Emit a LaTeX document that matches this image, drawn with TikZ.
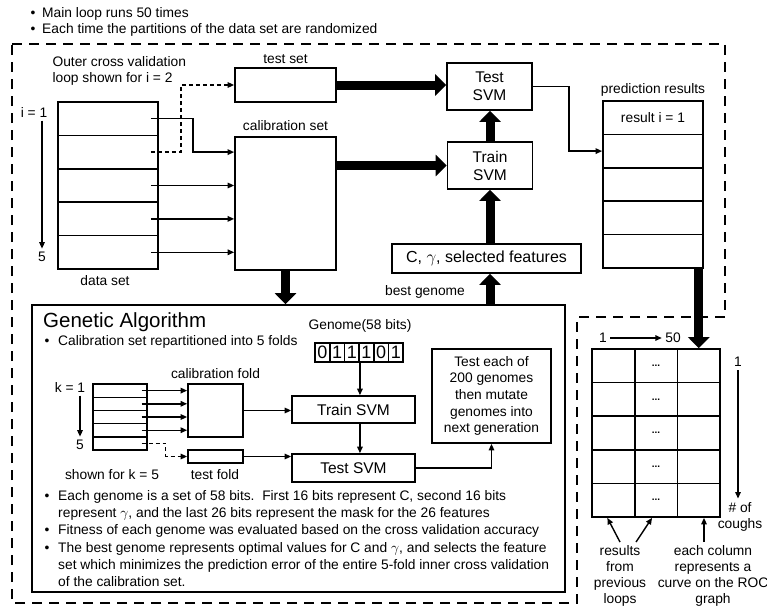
\documentclass[tikz,border=0pt]{standalone}
\usepackage{fontspec}
\setmainfont{Liberation Sans}
\usetikzlibrary{arrows.meta}

\tikzset{
  box/.style={draw, line width=1.7pt, inner sep=0pt},
  svm/.style={box, align=center, font=\fontsize{15.5}{18}\selectfont},
  arr/.style={line width=1.4pt, -{Triangle[length=6.5pt,width=5.5pt]}},
  dasharr/.style={arr, dash pattern=on 4pt off 3pt},
  wide/.style={line width=9pt, -{Triangle[length=11pt,width=21pt]}},
  outline/.style={line width=1.8pt, dash pattern=on 10pt off 7pt},
  note/.style={anchor=north west, align=left, font=\fontsize{13.8}{17}\selectfont},
}

\begin{document}
\begin{tikzpicture}[x=1pt, y=-1pt, every node/.style={font=\fontsize{13.8}{16}\selectfont}]
\useasboundingbox (0,0) rectangle (767,610);

% Notes on the main loop
\foreach \y in {14,30} \node at (33,\y) {\textbullet};
\node[anchor=west] (note1) at (38.7,14) {Main loop runs 50 times};
\node[anchor=west] (note2) at (38.7,30) {Each time the partitions of the data set are randomized};

% Dashed outline of the main loop
\draw[outline] (12,44) -- (725,44) -- (725,317) -- (577,317) -- (577,603) -- (12,603) -- cycle;

% Data set, i = 1 ... 5
\foreach \i in {1,...,5}
  \node[box, minimum width=100pt, minimum height=33.4pt] (ds\i) at (108,{102+33.4*(\i-0.5)}) {};
\node (dslbl) at (105,281) {data set};
\node (ione) at (34,112) {i = 1};
\node (ifive) at (42,257) {5};
\draw[arr] (ifive.north |- ione.south) -- (ifive.north);
\node[anchor=north west, align=left] (outerlbl) at (49,53) {Outer cross validation\\loop shown for i = 2};

% Test set and calibration set
\node[box, minimum width=101pt, minimum height=34pt] (testset) at (285.5,85) {};
\node[above] (testlbl) at (testset.north) {test set};
\node[box, minimum width=101pt, minimum height=133pt] (calibset) at (285.5,203.5) {};
\node[above=2pt] (caliblbl) at (calibset.north) {calibration set};

% SVM boxes and parameters
\node[svm, minimum width=85pt, minimum height=47pt] (testsvm) at (489.5,86.5) {Test\\SVM};
\node[svm, minimum width=85pt, minimum height=47pt] (trainsvm) at (490,165.5) {Train\\SVM};
\node[box, minimum width=189pt, minimum height=29pt, font=\fontsize{16}{19}\selectfont] (params) at (486.5,258.5) {C, $\gamma$, selected features};

% Prediction results
\foreach \i in {1,...,5}
  \node[box, minimum width=100pt, minimum height=33.4pt] (pr\i) at (653,{101+33.4*(\i-0.5)}) {};
\node (prfirst) at (pr1) {result i = 1};
\node[above] (prlbl) at (pr1.north) {prediction results};

% Connections of the outer loop
\draw[arr] ([xshift=-8pt]ds1.east) -- ([xshift=34pt]ds1.east) |- (calibset.west |- ds2.east);
\draw[dasharr] ([xshift=-8pt]ds2.east) -- ([xshift=22pt]ds2.east) |- (testset.west);
\foreach \i in {3,4,5}
  \draw[arr] ([xshift=-8pt]ds\i.east) -- (calibset.west |- ds\i.east);
\draw[wide] (testset.east) -- (testsvm.west |- testset.east);
\draw[wide] (calibset.east |- trainsvm.west) -- (trainsvm.west);
\draw[wide] (trainsvm.north) -- (testsvm.south -| trainsvm.north);
\draw[wide] (params.north -| trainsvm.south) -- (trainsvm.south);
\draw[arr] (testsvm.east) -- ([xshift=36pt]testsvm.east) |- (pr2.west);

% Genetic algorithm
\node[box, minimum width=533pt, minimum height=287pt] (ga) at (298.5,448.5) {};
\draw[wide] (calibset.south) -- (calibset.south |- ga.north);
\draw[wide] (trainsvm.south |- ga.north) -- (trainsvm.south |- params.south);
\node (bestlbl) at (425,292) {best genome};
\node[anchor=west, font=\fontsize{20.5}{24}\selectfont] (gatitle) at (39.7,322) {Genetic Algorithm};
\node at (47,342) {\textbullet};
\node[anchor=west] (gabul) at (54.7,342) {Calibration set repartitioned into 5 folds};

% Folds, k = 1 ... 5
\foreach \i in {1,...,5}
  \node[box, minimum width=54pt, minimum height=13.2pt, line width=1.4pt] (f\i) at (120,{384+13.2*(\i-0.5)}) {};
\node (kone) at (70,387) {k = 1};
\node (kfive) at (80,445) {5};
\draw[arr] (kfive.north |- kone.south) -- (kfive.north);
\node[box, minimum width=55pt, minimum height=53pt] (calfold) at (215.5,410.5) {};
\node[box, minimum width=55pt, minimum height=13pt] (testfold) at (215.5,456.5) {};
\node[above=1pt] (calfoldlbl) at (calfold.north) {calibration fold};
\node (testfoldlbl) at (215,475) {test fold};
\node (shownlbl) at (112,475) {shown for k = 5};
\foreach \i in {1,...,4}
  \draw[arr] ([xshift=-6pt]f\i.east) -- (calfold.west |- f\i.east);
\draw[dasharr] ([xshift=-6pt]f5.east) -- ([xshift=18pt]f5.east) |- (testfold.west);

% Genome
\node (genlbl) at (360,326) {Genome(58 bits)};
\foreach \b [count=\i] in {0,1,1,1,0,1}
  \node[box, minimum width=14.7pt, minimum height=19pt, font=\fontsize{18}{18}\selectfont] (b\i) at ({315+14.7*(\i-0.5)},352.5) {\b};
\node[svm, minimum width=123pt, minimum height=27pt] (gatrain) at (353.5,409.5) {Train SVM};
\node[svm, minimum width=123pt, minimum height=28pt] (gatest) at (353.5,468) {Test SVM};
\node[box, minimum width=119pt, minimum height=94pt, align=center, font=\fontsize{13.8}{16.7}\selectfont] (testeach) at (491.5,396) {Test each of\\200 genomes\\then mutate\\genomes into\\next generation};
\draw[arr] (b3.south east) -- (b3.south east |- gatrain.north);
\draw[arr] (b3.south east |- gatrain.south) -- (b3.south east |- gatest.north);
\draw[arr] (calfold.east) -- (gatrain.west |- calfold.east);
\draw[arr] (testfold.east) -- (gatest.west |- testfold.east);
\draw[arr] (gatest.east) -| (testeach.south);

% Notes on the genetic algorithm
\foreach \y in {497,531,549} \node at (47,\y) {\textbullet};
\node[note] (note3) at (54.7,487) {Each genome is a set of 58 bits.\ \ First 16 bits represent C, second 16 bits\\represent $\gamma$, and the last 26 bits represent the mask for the 26 features};
\node[note] (note4) at (54.7,521) {Fitness of each genome was evaluated based on the cross validation accuracy};
\node[note] (note5) at (54.7,539) {The best genome represents optimal values for C and $\gamma$, and selects the feature\\set which minimizes the prediction error of the entire 5-fold inner cross validation\\of the calibration set.};

% Results of all loops
\foreach \r in {1,...,5} {
  \node[box, minimum width=42.7pt, minimum height=33.6pt] (g\r1) at (613.35,{349+33.6*(\r-0.5)}) {};
  \node[box, minimum width=42.7pt, minimum height=33.6pt, font=\bfseries] (g\r2) at (656.05,{349+33.6*(\r-0.5)}) {...};
  \node[box, minimum width=42.7pt, minimum height=33.6pt] (g\r3) at (698.75,{349+33.6*(\r-0.5)}) {};
}
\draw[wide] (g13.north |- pr5.south) -- (g13.north);
\node (cone) at (603,338) {1};
\node (cfifty) at (673,338) {50};
\draw[arr] (cone) -- (cfifty);
\node (rone) at (738,362) {1};
\node[align=center] (coughs) at (740,516.5) {\# of\\coughs};
\draw[arr] (rone.south) -- (rone.south |- coughs.north);
\node[align=center] (prevlbl) at (620,576) {results\\from\\previous\\loops};
\node[align=center] (collbl) at (713,576) {each column\\represents a\\curve on the ROC\\graph};
\draw[arr] (prevlbl.north) -- ([xshift=-6pt]g51.south);
\draw[arr] ([xshift=16pt]prevlbl.north) -- ([xshift=-4pt]g52.south);
\draw[arr] ([xshift=-9pt]collbl.north) -- ([xshift=-9pt]collbl.north |- g53.south);

\end{tikzpicture}
\end{document}
